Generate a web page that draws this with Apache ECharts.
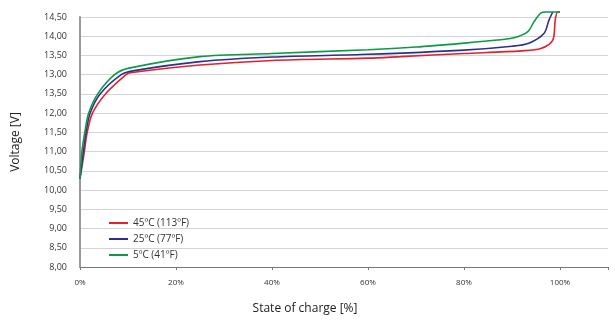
<!DOCTYPE html>
<html>
<head>
<meta charset="utf-8">
<script src="https://cdn.jsdelivr.net/npm/echarts@6/dist/echarts.min.js"></script>
<style>
  html, body { margin: 0; padding: 0; background: #fff; }
  #chart { width: 615px; height: 320px; }
</style>
</head>
<body>
<div id="chart"></div>
<script>
// state of charge [%] and voltage [V]
let soc45 = [0, 0.9, 1.5, 2.6, 5.3, 9.6, 10.5, 25, 40, 60, 66.8, 80, 92, 96, 98.5, 99, 99.5, 100];
let volt45 = [10.3, 11.0, 11.5, 12.0, 12.5, 13.0, 13.05, 13.25, 13.37, 13.43, 13.47, 13.55, 13.62, 13.68, 13.9, 14.42, 14.63, 14.63];

let soc25 = [0, 0.7, 1.25, 2.1, 4.2, 8.6, 11, 25, 40, 60, 80, 90, 93.5, 96.7, 97.7, 98.5];
let volt25 = [10.3, 11.0, 11.5, 12.0, 12.5, 13.0, 13.1, 13.34, 13.46, 13.53, 13.64, 13.74, 13.82, 14.08, 14.42, 14.63];

let soc5 = [0, 0.4, 1, 1.8, 3.7, 7.2, 10.2, 25, 40, 60, 70, 80, 87, 90.4, 93.3, 94.6, 96, 97, 100];
let volt5 = [10.3, 11.0, 11.5, 12.0, 12.5, 13.0, 13.17, 13.47, 13.55, 13.65, 13.72, 13.82, 13.9, 13.96, 14.12, 14.38, 14.6, 14.63, 14.63];

let seriesNames = ["45ºC (113ºF)", "25ºC (77ºF)", "5ºC (41ºF)"];
// labels as printed in the source (12,50 is printed as 13,50)
let yTickLabels = ["8,00", "8,50", "9,00", "9,50", "10,00", "10,50", "11,00", "11,50", "12,00", "13,50", "13,00", "13,50", "14,00", "14,50"];
let xTickLabels = ["0%", "20%", "40%", "60%", "80%", "100%"];

function pairs(xs, ys) {
  let out = [];
  xs.map(function (x, i) {
    out.push([x, ys[i]]);
  });
  return out;
}

let colors = ["#e3202b", "#2e2f8c", "#0b9a48"];
let font = "'Open Sans', 'Noto Sans', sans-serif";

let chart = echarts.init(document.getElementById("chart"));
chart.setOption({
  animation: false,
  textStyle: { fontFamily: font },
  grid: { left: 80, right: 7, top: 17, bottom: 53 },
  legend: {
    orient: "vertical",
    left: 104,
    top: 213,
    icon: "rect",
    itemWidth: 19,
    itemHeight: 2,
    itemGap: 6,
    textStyle: { fontSize: 10, color: "#333", fontFamily: font },
    data: seriesNames,
  },
  xAxis: {
    type: "value",
    min: 0,
    max: 110,
    interval: 20,
    name: "State of charge [%]",
    nameLocation: "middle",
    nameGap: 36,
    nameTextStyle: { fontSize: 12, color: "#222", padding: [0, 78, 0, 0] },
    axisLine: { lineStyle: { color: "#777", width: 1 } },
    axisTick: { show: true, length: 3, lineStyle: { color: "#777" } },
    splitLine: { show: false },
    axisLabel: {
      fontSize: 8,
      color: "#333",
      margin: 12,
      formatter: function (v) {
        return xTickLabels[v / 20] || "";
      },
    },
  },
  yAxis: {
    type: "value",
    min: 8,
    max: 14.5,
    interval: 0.5,
    name: "Voltage [V]",
    nameLocation: "middle",
    nameGap: 58,
    nameRotate: 90,
    nameTextStyle: { fontSize: 12, color: "#222" },
    axisLine: { show: true, lineStyle: { color: "#9a9a9a", width: 2 } },
    axisTick: { show: false },
    splitLine: { lineStyle: { color: "#d4d4d4", width: 1 } },
    axisLabel: {
      fontSize: 9,
      color: "#333",
      margin: 13,
      formatter: function (v) {
        return yTickLabels[Math.round((v - 8) / 0.5)] || "";
      },
    },
  },
  series: [
    {
      name: seriesNames[0],
      type: "line",
      data: pairs(soc45, volt45),
      smooth: 0.3,
      symbol: "none",
      clip: false,
      lineStyle: { color: colors[0], width: 1.6 },
      itemStyle: { color: colors[0] },
      z: 3,
    },
    {
      name: seriesNames[1],
      type: "line",
      data: pairs(soc25, volt25),
      smooth: 0.3,
      symbol: "none",
      clip: false,
      lineStyle: { color: colors[1], width: 1.6 },
      itemStyle: { color: colors[1] },
      z: 4,
    },
    {
      name: seriesNames[2],
      type: "line",
      data: pairs(soc5, volt5),
      smooth: 0.3,
      symbol: "none",
      clip: false,
      lineStyle: { color: colors[2], width: 1.6 },
      itemStyle: { color: colors[2] },
      z: 5,
    },
  ],
});
</script>
</body>
</html>
